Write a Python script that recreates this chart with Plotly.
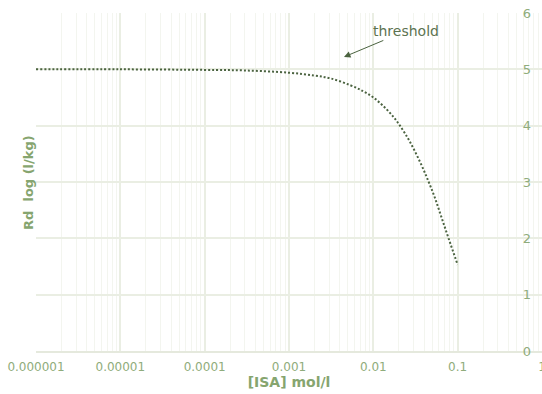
import plotly.graph_objects as go

# Sorption distribution ratio vs ISA concentration
isa_conc = [1e-6, 1e-5, 1e-4, 3e-4, 1e-3, 2e-3, 3.1e-3, 5.3e-3, 7.6e-3, 1e-2,
            1.31e-2, 1.72e-2, 2.07e-2, 2.7e-2, 3.57e-2, 4.48e-2, 5.37e-2,
            6.44e-2, 7.8e-2, 1e-1]
rd_log = [5.00, 5.00, 4.99, 4.98, 4.94, 4.89, 4.84, 4.72, 4.61, 4.50,
          4.35, 4.16, 4.00, 3.72, 3.36, 3.02, 2.72, 2.37, 2.00, 1.53]

x_tick_vals = [1e-6, 1e-5, 1e-4, 1e-3, 1e-2, 1e-1, 1]
x_tick_text = ["0.000001", "0.00001", "0.0001", "0.001", "0.01", "0.1", "1"]
minor_vals = [m * d for d in x_tick_vals[:-1] for m in range(2, 10)]

label_green = "#8fac7b"
title_green = "#86a56f"
curve_green = "#4b6340"
font_family = "DejaVu Sans, Verdana, sans-serif"

fig = go.Figure()
fig.add_trace(go.Scatter(
    x=isa_conc, y=rd_log, mode="lines",
    line=dict(color=curve_green, width=2, dash="2px,2px", shape="spline", smoothing=1.0),
    hoverinfo="skip", showlegend=False,
))

fig.update_layout(
    width=542, height=394,
    margin=dict(l=36, r=0, t=13, b=43, autoexpand=False),
    paper_bgcolor="white", plot_bgcolor="white",
    font=dict(family=font_family, size=12, color=label_green),
    xaxis=dict(
        type="log", range=[-6, 0], automargin=False,
        tickmode="array", tickvals=x_tick_vals, ticktext=x_tick_text,
        showgrid=True, gridcolor="#eaeee3", gridwidth=1.5,
        minor=dict(tickvals=minor_vals, showgrid=True, gridcolor="#f3f5ef", gridwidth=1),
        ticks="outside", ticklen=4, tickcolor="rgba(0,0,0,0)",
        showline=True, linecolor="#e5e9dd", linewidth=1.5,
        zeroline=False, ticklabeloverflow="allow",
        tickfont=dict(size=12, color=label_green),
        title=dict(text="<b>[ISA] mol/l</b>", font=dict(size=14, color=title_green), standoff=4),
    ),
    yaxis=dict(
        range=[0, 6], dtick=1, side="right", ticklabelposition="inside",
        ticklabeloverflow="allow", automargin=False, ticklabelstandoff=8,
        showgrid=True, gridcolor="#eaeee3", gridwidth=1.5,
        zeroline=False, showline=False,
        tickfont=dict(size=13, color=label_green),
    ),
    annotations=[
        dict(
            text="<b>Rd  log (l/kg)</b>", textangle=-90,
            xref="paper", yref="paper", x=-0.016, y=0.5,
            xanchor="center", yanchor="middle", showarrow=False,
            font=dict(size=13, color=title_green),
        ),
        dict(
            text="threshold", x=-2.348, y=5.22, xref="x", yref="y",
            ax=62, ay=-26, showarrow=True,
            arrowhead=2, arrowsize=1.3, arrowwidth=1, arrowcolor=curve_green,
            font=dict(size=14, color="#5c7350"),
        ),
    ],
)

fig.write_html("out.html")
